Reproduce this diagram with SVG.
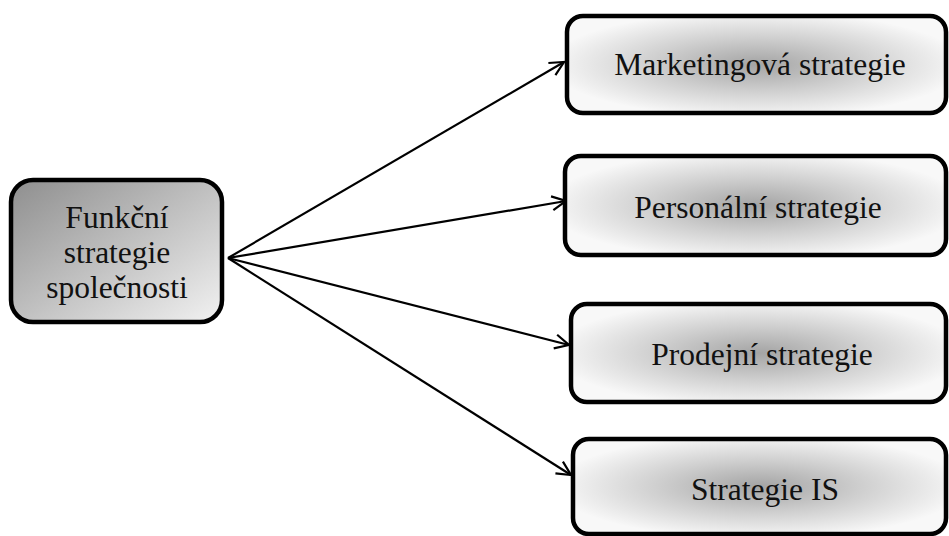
<svg xmlns="http://www.w3.org/2000/svg" width="949" height="536" viewBox="0 0 949 536">
<defs>
<linearGradient id="gsrc" x1="0" y1="0" x2="1" y2="1">
<stop offset="0" stop-color="#8e8e8e"/>
<stop offset="1" stop-color="#f2f2f2"/>
</linearGradient>
<radialGradient id="gtgt" cx="0.5" cy="0.5" r="0.55">
<stop offset="0" stop-color="#a4a4a4"/>
<stop offset="0.5" stop-color="#cfcfcf"/>
<stop offset="1" stop-color="#f8f8f8"/>
</radialGradient>
<marker id="arr" viewBox="0 0 20 20" refX="18" refY="10" markerWidth="20" markerHeight="20" markerUnits="userSpaceOnUse" orient="auto">
<path d="M4,3 L18,10 L4,17" fill="none" stroke="#000" stroke-width="2.2"/>
</marker>
<style>
.box{stroke:#000;stroke-width:4.5}
.src{fill:url(#gsrc)}
.tgt{fill:url(#gtgt)}
.t{font-family:'Liberation Serif','DejaVu Serif',serif;font-size:31.5px;fill:#111;text-anchor:middle}
.c{stroke:#000;stroke-width:2.2;fill:none}
</style>
</defs>
<g id="connectors">
<path class="c" d="M228,258 L564,62" marker-end="url(#arr)"/>
<path class="c" d="M228,258 L566,201" marker-end="url(#arr)"/>
<path class="c" d="M228,258 L569,345" marker-end="url(#arr)"/>
<path class="c" d="M228,258 L571,475" marker-end="url(#arr)"/>
</g>
<g id="node-source">
<rect class="box src" x="11" y="180" width="211" height="142" rx="22"/>
<text class="t" x="117" y="228">Funkční</text>
<text class="t" x="117" y="263">strategie</text>
<text class="t" x="117" y="298">společnosti</text>
</g>
<g id="node-marketing">
<rect class="box tgt" x="567" y="16" width="379" height="97" rx="16"/>
<text class="t" x="760" y="75">Marketingová strategie</text>
</g>
<g id="node-personalni">
<rect class="box tgt" x="565" y="156" width="381" height="99" rx="16"/>
<text class="t" x="758" y="218">Personální strategie</text>
</g>
<g id="node-prodejni">
<rect class="box tgt" x="571" y="304" width="375" height="98" rx="16"/>
<text class="t" x="762" y="365">Prodejní strategie</text>
</g>
<g id="node-is">
<rect class="box tgt" x="573" y="439" width="373" height="95" rx="16"/>
<text class="t" x="765" y="500">Strategie IS</text>
</g>
</svg>
